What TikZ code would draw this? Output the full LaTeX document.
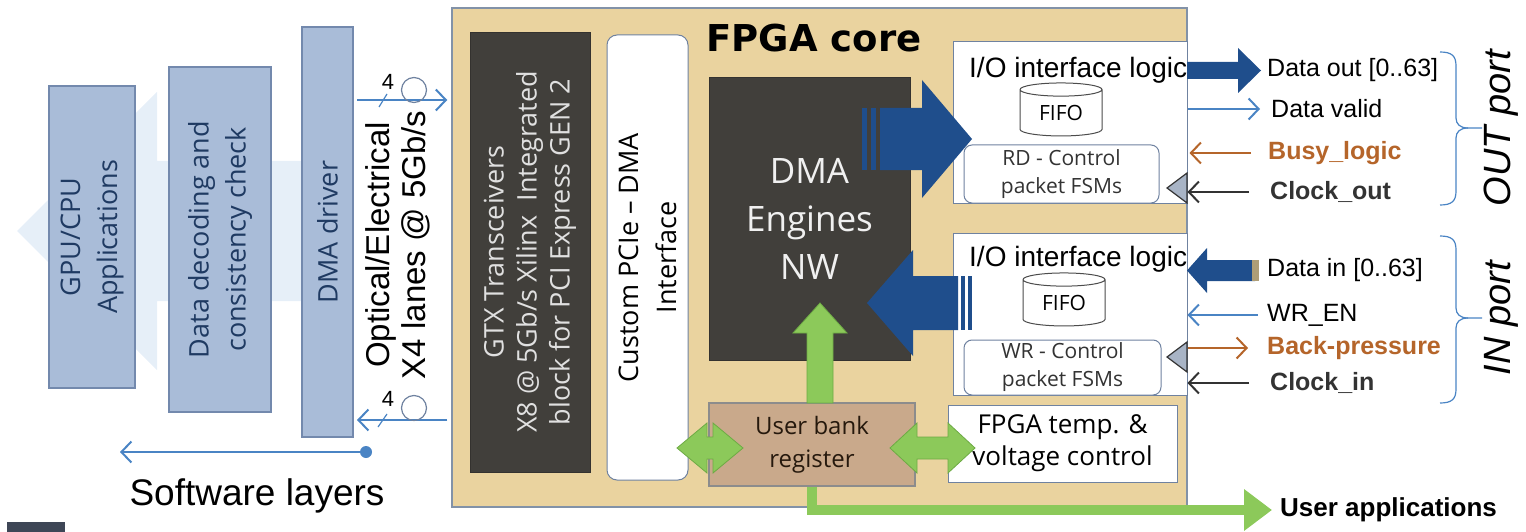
\documentclass[tikz,border=0pt]{standalone}
\usepackage{fontspec}
\setmainfont{Liberation Sans}
\newfontfamily\osans{Open Sans}
\newfontfamily\vsans{DejaVu Sans}
\usetikzlibrary{arrows.meta,shapes.geometric}
\newcommand{\fsz}[2]{\fontsize{#1}{#2}\selectfont}

\definecolor{swblue}{HTML}{A9BCD8}
\definecolor{swborder}{HTML}{7389AD}
\definecolor{swtext}{HTML}{1F3A62}
\definecolor{bgarrow}{HTML}{E6EFF8}
\definecolor{fpgatan}{HTML}{EAD39F}
\definecolor{fpgaborder}{HTML}{8292A8}
\definecolor{darkblk}{HTML}{413F3B}
\definecolor{busblue}{HTML}{1F4E8C}
\definecolor{sigblue}{HTML}{4A84C4}
\definecolor{sigorange}{HTML}{B5652A}
\definecolor{ctrlgreen}{HTML}{8CC95A}
\definecolor{greenedge}{HTML}{6DAA44}
\definecolor{banktan}{HTML}{C9A98B}
\definecolor{clkgray}{HTML}{A8B4C6}
\definecolor{boxedge}{HTML}{6F82A0}
\definecolor{cornerbox}{HTML}{3E4656}

\begin{document}
\begin{tikzpicture}[x=1pt, y=-1pt,
  swbox/.style={draw=swborder, fill=swblue, line width=1.2pt, inner sep=0pt, text=swtext, font=\osans\fsz{27}{37}, align=center},
  darkbox/.style={draw=darkblk!80!black, fill=darkblk, inner sep=0pt, align=center},
  whitebox/.style={draw=boxedge, fill=white, line width=1pt, inner sep=0pt, align=center},
  ctrlbox/.style={draw=boxedge, fill=white, rounded corners=8pt, line width=1pt, inner sep=0pt, align=center, font=\osans\fsz{21}{28}, text=black!80},
  fifo/.style={cylinder, shape border rotate=90, aspect=0.3, draw=black!70, fill=white, line width=1pt, font=\osans\fsz{21}{24}, inner sep=0pt},
  siglbl/.style={anchor=west, inner sep=3pt, font=\fsz{25}{28}},
  boldlbl/.style={siglbl, font=\bfseries\fsz{25}{28}},
  sig/.style={line width=2pt, -{Straight Barb[length=10pt,width=21pt,line width=2pt]}},
  bus/.style={fill=busblue},
  grn/.style={fill=ctrlgreen, draw=greenedge, line width=0.8pt}]
    \useasboundingbox (0,0) rectangle (1526,532);

    % Software side
    \fill[bgarrow] (353,161) -- (157,161) -- (157,92) -- (17,231) -- (157,370) -- (157,301) -- (353,301) -- cycle;
    \node[swbox, rotate=90, minimum width=302pt, minimum height=86pt] (gpu) at (92,237) {GPU/CPU\\Applications};
    \node[swbox, rotate=90, minimum width=345pt, minimum height=102pt] (decode) at (220,239.5) {Data decoding and\\consistency check};
    \node[swbox, rotate=90, minimum width=410pt, minimum height=51pt] (driver) at (327.5,232) {DMA driver};
    \fill[cornerbox] (7,522) rectangle (65,532);

    \coordinate (sw-end) at (366,452);
    \coordinate (sw-tip) at (120,452);
    \fill[sigblue] (sw-end) circle (6pt);
    \draw[sig, sigblue] (sw-end) -- (sw-tip);
    \node[font=\fsz{37}{40}] (swlayers) at (257,496) {Software layers};

    % FPGA core
    \node[draw=fpgaborder, fill=fpgatan, line width=1.5pt, minimum width=735pt, minimum height=499pt, inner sep=0pt] (fpga) at (819.5,257.5) {};
    \node[font=\vsans\bfseries\fsz{37}{40}] (fpga-title) at (814,38) {FPGA core};

    % Lanes
    \coordinate (lane-tx) at (357,100);
    \coordinate (lane-rx) at (357,420);
    \draw[sig, sigblue, shorten >=4pt] (lane-tx) -- (lane-tx -| fpga.west);
    \draw[sig, sigblue, shorten <=4pt] (lane-rx -| fpga.west) -- (lane-rx);
    \node[circle, draw=boxedge, line width=1.2pt, minimum size=25pt, inner sep=0pt] (tx-ring) at (414,90) {};
    \node[circle, draw=boxedge, line width=1.2pt, minimum size=25pt, inner sep=0pt] (rx-ring) at (414,408) {};
    \node[font=\fsz{22}{24}] (tx-n) at (388,82) {4};
    \node[font=\fsz{22}{24}] (rx-n) at (388,399) {4};
    \draw[sigblue, line width=1.2pt] (379,107) -- (387,94);
    \draw[sigblue, line width=1.2pt] (378,427) -- (387,414);
    \node[rotate=90, font=\fsz{33}{36}, align=center] (lanes) at (398,245) {Optical/Electrical\\X4 lanes @ 5Gb/s};

    % Blocks inside the core
    \node[darkbox, rotate=90, minimum width=440pt, minimum height=120pt, text=white!88!black, font=\osans\fsz{27}{33}] (gtx) at (530,252) {GTX Transceivers\\X8 @ 5Gb/s Xilinx\ \ Integrated\\block for PCI Express GEN 2};
    \node[whitebox, rounded corners=10pt, rotate=90, minimum width=445pt, minimum height=81pt, font=\osans\fsz{27}{38}] (pcie) at (647.5,257.5) {Custom PCIe – DMA\\Interface};
    \node[darkbox, minimum width=201pt, minimum height=283pt, text=white!94!black, font=\osans\fsz{35}{48}] (dma) at (809.5,218.5) {DMA\\Engines\\NW};

    % Output logic
    \node[whitebox, minimum width=234pt, minimum height=161pt] (io-out) at (1070,122.5) {};
    \node[anchor=west, inner sep=0pt, font=\fsz{28}{30}] (io-out-t) at (969,70) {I/O interface logic};
    \node[fifo, minimum width=82pt, minimum height=53pt] (fifo-out) at (1061,113) {FIFO};
    \node[ctrlbox, minimum width=195pt, minimum height=58pt] (rd) at (1061.5,174) {RD - Control\\packet FSMs};
    \filldraw[fill=clkgray, draw=black!80, line width=1.2pt] (1187,173) -- (1167,188) -- (1187,203) -- cycle;

    % Input logic
    \node[whitebox, minimum width=234pt, minimum height=162pt] (io-in) at (1070,314) {};
    \node[anchor=west, inner sep=0pt, font=\fsz{28}{30}] (io-in-t) at (969,259) {I/O interface logic};
    \node[fifo, minimum width=82pt, minimum height=53pt] (fifo-in) at (1064,303) {FIFO};
    \node[ctrlbox, minimum width=197pt, minimum height=55pt] (wr) at (1062.5,367.5) {WR - Control\\packet FSMs};
    \filldraw[fill=clkgray, draw=black!80, line width=1.2pt] (1187,342) -- (1167,357) -- (1187,372) -- cycle;

    % Registers
    \node[draw=black!45, fill=banktan, line width=1.2pt, minimum width=206pt, minimum height=83pt, inner sep=0pt, align=center, font=\osans\fsz{24}{33}, text=black!80!brown] (bank) at (812,444.5) {User bank\\register};
    \node[whitebox, minimum width=229pt, minimum height=77pt, font=\osans\fsz{26}{32}] (temp) at (1062.5,443.5) {FPGA temp. \&\\voltage control};

    % Data buses
    \fill[bus] (880,108) -- (922,108) -- (922,80) -- (972,139) -- (922,198) -- (922,170) -- (880,170) -- cycle;
    \fill[bus] (862,108) rectangle (867,170);
    \fill[bus] (871,108) rectangle (876,170);
    \fill[bus] (958,276) -- (913,276) -- (913,250) -- (867,303) -- (913,356) -- (913,330) -- (958,330) -- cycle;
    \fill[bus] (961,276) rectangle (965,330);
    \fill[bus] (968,276) rectangle (972,330);
    \fill[bus] (1187,62) -- (1238,62) -- (1238,48) -- (1261,70.5) -- (1238,93) -- (1238,79) -- (1187,79) -- cycle;
    \fill[bus] (1255,260) -- (1207,260) -- (1207,248) -- (1187,270.5) -- (1207,293) -- (1207,281) -- (1255,281) -- cycle;
    \fill[fpgatan!75!black] (1252,260) rectangle (1259,281);

    % OUT port signals
    \node[siglbl] (dout) at (1264,70) {Data out [0..63]};
    \node[siglbl] (dvalid) at (1268,109) {Data valid};
    \node[boldlbl, text=sigorange] (busy) at (1265,153) {Busy\_logic};
    \node[boldlbl, text=black!80] (clkout) at (1267,192) {Clock\_out};
    \draw[sig, sigblue, line width=1.5pt, shorten >=8pt] (io-out.east |- dvalid.west) -- (dvalid.west);
    \draw[sig, sigorange, shorten <=14pt, shorten >=2pt] (busy.west) -- (io-out.east |- busy.west);
    \draw[sig, black!80, shorten <=18pt] (clkout.west) -- (io-out.east |- clkout.west);

    % IN port signals
    \node[siglbl] (din) at (1264,270) {Data in [0..63]};
    \node[siglbl] (wren) at (1264,315) {WR\_EN};
    \node[boldlbl, text=sigorange] (bp) at (1264,348) {Back-pressure};
    \node[boldlbl, text=black!80] (clkin) at (1267,383) {Clock\_in};
    \draw[sig, sigblue, line width=1.5pt, shorten <=6pt] (wren.west) -- (io-in.east |- wren.west);
    \draw[sig, sigorange, shorten >=16pt] (io-in.east |- bp.west) -- (bp.west);
    \draw[sig, black!80, shorten <=18pt] (clkin.west) -- (io-in.east |- clkin.west);

    % Port braces
    \draw[sigblue, line width=1.2pt] (1440,52) .. controls (1452,52) and (1456,56) .. (1456,66) -- (1456,118) .. controls (1456,124) and (1460,128) .. (1468,128) -- (1482,128);
    \draw[sigblue, line width=1.2pt] (1440,205) .. controls (1452,205) and (1456,201) .. (1456,191) -- (1456,138) .. controls (1456,132) and (1460,128) .. (1468,128);
    \draw[sigblue, line width=1.2pt] (1440,236) .. controls (1452,236) and (1456,240) .. (1456,250) -- (1456,308) .. controls (1456,314) and (1460,318) .. (1468,318) -- (1482,318);
    \draw[sigblue, line width=1.2pt] (1440,403) .. controls (1452,403) and (1456,399) .. (1456,389) -- (1456,328) .. controls (1456,322) and (1460,318) .. (1468,318);
    \node[rotate=90, font=\itshape\fsz{38}{40}] (outport) at (1501,128) {OUT port};
    \node[rotate=90, font=\itshape\fsz{38}{40}] (inport) at (1501,318) {IN port};

    % Control paths
    \filldraw[grn] (807,403) -- (807,333) -- (793,333) -- (820,303) -- (847,333) -- (833,333) -- (833,403) -- cycle;
    \filldraw[grn] (677,448) -- (707,423) -- (707,437) -- (713,437) -- (713,423) -- (743,448) -- (713,473) -- (713,459) -- (707,459) -- (707,473) -- cycle;
    \filldraw[grn] (890,448) -- (917,423) -- (917,437) -- (948,437) -- (948,423) -- (975,448) -- (948,473) -- (948,459) -- (917,459) -- (917,473) -- cycle;
    \node[anchor=west, font=\bfseries\fsz{26}{28}, inner sep=2pt] (uapp) at (1278,510) {User applications};
    \draw[line width=10pt, ctrlgreen, shorten >=6pt, -{Triangle[length=28pt,width=40pt]}] (bank.south) |- (uapp.west);
\end{tikzpicture}
\end{document}
